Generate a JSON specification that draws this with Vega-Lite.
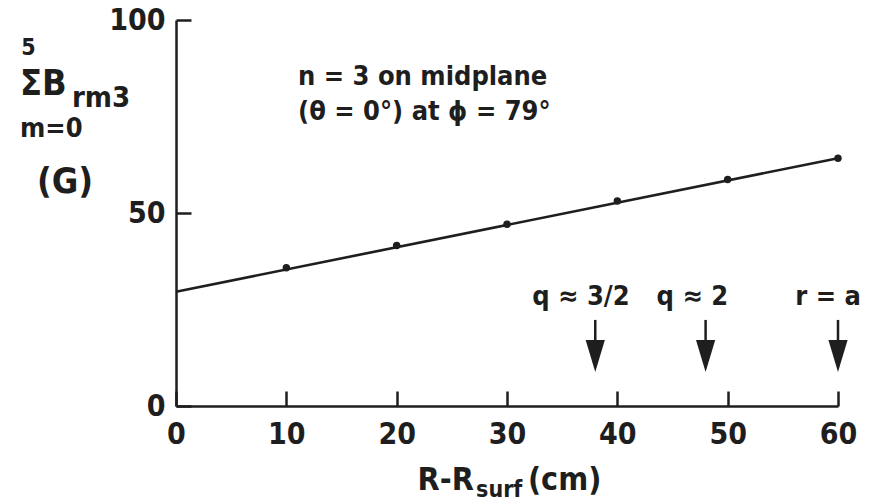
{
  "$schema": "https://vega.github.io/schema/vega-lite/v6.json",
  "width": 662,
  "height": 386,
  "autosize": {"type": "none"},
  "padding": {"left": 176, "top": 20, "right": 35, "bottom": 95},
  "background": "white",
  "config": {
    "view": {"stroke": null},
    "font": "DejaVu Sans Condensed, Liberation Sans, sans-serif",
    "text": {"font": "DejaVu Sans Condensed, Liberation Sans, sans-serif", "fontWeight": "bold", "color": "#1e1e1e"},
    "axis": {
      "domainColor": "#1e1e1e",
      "domainWidth": 2.5,
      "tickColor": "#1e1e1e",
      "tickWidth": 2.5,
      "tickSize": -15,
      "grid": false,
      "labelFont": "DejaVu Sans Condensed, Liberation Sans, sans-serif",
      "labelFontWeight": "bold",
      "labelFontSize": 30,
      "labelColor": "#1e1e1e",
      "title": null
    }
  },
  "datasets": {
    "measured": [
      {"r_cm": 10, "b_sum": 35.8},
      {"r_cm": 20, "b_sum": 41.6},
      {"r_cm": 30, "b_sum": 47.1},
      {"r_cm": 40, "b_sum": 53.1},
      {"r_cm": 50, "b_sum": 58.7},
      {"r_cm": 60, "b_sum": 64.2}
    ],
    "fit": [
      {"r_cm": 0, "b_sum": 29.6},
      {"r_cm": 60, "b_sum": 64.2}
    ],
    "surfaces": [
      {"r_cm": 38, "name": "q ≈ 3/2"},
      {"r_cm": 48, "name": "q ≈ 2"},
      {"r_cm": 60, "name": "r = a"}
    ],
    "one": [{}]
  },
  "layer": [
    {
      "data": {"name": "fit"},
      "mark": {"type": "line", "color": "#1e1e1e", "strokeWidth": 2.6, "clip": false},
      "encoding": {
        "x": {
          "field": "r_cm", "type": "quantitative",
          "scale": {"domain": [0, 60], "nice": false, "zero": false},
          "axis": {"values": [0, 10, 20, 30, 40, 50, 60], "labelPadding": 28, "labelFlush": false}
        },
        "y": {
          "field": "b_sum", "type": "quantitative",
          "scale": {"domain": [0, 100], "nice": false},
          "axis": {"values": [0, 50, 100], "labelPadding": 26, "labelBaseline": "middle"}
        }
      }
    },
    {
      "data": {"name": "measured"},
      "mark": {"type": "point", "filled": true, "color": "#1e1e1e", "size": 55, "opacity": 1},
      "encoding": {
        "x": {"field": "r_cm", "type": "quantitative"},
        "y": {"field": "b_sum", "type": "quantitative"}
      }
    },
    {
      "data": {"name": "surfaces"},
      "mark": {"type": "rule", "color": "#1e1e1e", "strokeWidth": 2.5},
      "encoding": {
        "x": {"field": "r_cm", "type": "quantitative"},
        "y": {"datum": 22.3},
        "y2": {"datum": 15}
      }
    },
    {
      "data": {"name": "surfaces"},
      "mark": {"type": "point", "shape": "M-0.6,-1L0.6,-1L0,1Z", "filled": true, "color": "#1e1e1e", "size": 1024, "opacity": 1, "strokeWidth": 0},
      "encoding": {
        "x": {"field": "r_cm", "type": "quantitative"},
        "y": {"datum": 12.95}
      }
    },
    {
      "data": {"name": "one"},
      "mark": {"type": "text", "fontSize": 27, "align": "center", "baseline": "alphabetic"},
      "encoding": {"x": {"datum": 36.7}, "y": {"datum": 26.2}, "text": {"value": "q ≈ 3/2"}}
    },
    {
      "data": {"name": "one"},
      "mark": {"type": "text", "fontSize": 27, "align": "center", "baseline": "alphabetic"},
      "encoding": {"x": {"datum": 46.8}, "y": {"datum": 26.2}, "text": {"value": "q ≈ 2"}}
    },
    {
      "data": {"name": "one"},
      "mark": {"type": "text", "fontSize": 27, "align": "center", "baseline": "alphabetic"},
      "encoding": {"x": {"datum": 59.1}, "y": {"datum": 26.2}, "text": {"value": "r = a"}}
    },
    {
      "data": {"name": "one"},
      "mark": {"type": "text", "fontSize": 27, "align": "left", "baseline": "alphabetic"},
      "encoding": {"x": {"datum": 11.06}, "y": {"datum": 83.2}, "text": {"value": "n = 3 on midplane"}}
    },
    {
      "data": {"name": "one"},
      "mark": {"type": "text", "fontSize": 27, "align": "left", "baseline": "alphabetic"},
      "encoding": {"x": {"datum": 11.06}, "y": {"datum": 74.1}, "text": {"value": "(θ = 0°) at ϕ = 79°"}}
    },
    {
      "data": {"name": "one"},
      "mark": {"type": "text", "fontSize": 23, "align": "center", "baseline": "alphabetic"},
      "encoding": {"x": {"datum": -13.37}, "y": {"datum": 90.9}, "text": {"value": "5"}}
    },
    {
      "data": {"name": "one"},
      "mark": {"type": "text", "fontSize": 36, "align": "left", "baseline": "alphabetic"},
      "encoding": {"x": {"datum": -14.14}, "y": {"datum": 80.6}, "text": {"value": "ΣB"}}
    },
    {
      "data": {"name": "one"},
      "mark": {"type": "text", "fontSize": 29, "align": "left", "baseline": "alphabetic"},
      "encoding": {"x": {"datum": -9.43}, "y": {"datum": 77.5}, "text": {"value": "rm3"}}
    },
    {
      "data": {"name": "one"},
      "mark": {"type": "text", "fontSize": 27, "align": "left", "baseline": "alphabetic"},
      "encoding": {"x": {"datum": -14.14}, "y": {"datum": 69.7}, "text": {"value": "m=0"}}
    },
    {
      "data": {"name": "one"},
      "mark": {"type": "text", "fontSize": 36, "align": "center", "baseline": "alphabetic"},
      "encoding": {"x": {"datum": -10.06}, "y": {"datum": 55.2}, "text": {"value": "(G)"}}
    },
    {
      "data": {"name": "one"},
      "mark": {"type": "text", "fontSize": 32, "align": "right", "baseline": "alphabetic"},
      "encoding": {"x": {"datum": 27.0}, "y": {"datum": -21.8}, "text": {"value": "R-R"}}
    },
    {
      "data": {"name": "one"},
      "mark": {"type": "text", "fontSize": 23, "align": "left", "baseline": "alphabetic"},
      "encoding": {"x": {"datum": 27.2}, "y": {"datum": -23.6}, "text": {"value": "surf"}}
    },
    {
      "data": {"name": "one"},
      "mark": {"type": "text", "fontSize": 32, "align": "left", "baseline": "alphabetic"},
      "encoding": {"x": {"datum": 31.9}, "y": {"datum": -21.8}, "text": {"value": "(cm)"}}
    }
  ]
}
